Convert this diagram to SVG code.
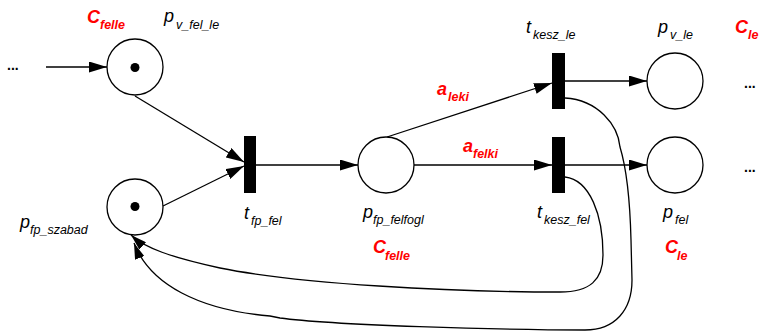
<svg xmlns="http://www.w3.org/2000/svg" width="759" height="331" viewBox="0 0 759 331">
<style>
.pl{fill:#fff;stroke:#000;stroke-width:1.3}
.tok{fill:#000}
.tr{fill:#000}
.ln{fill:none;stroke:#000;stroke-width:1.3}
.m{font-family:"Liberation Sans",Arial,sans-serif;font-style:italic;font-size:18px;fill:#000}
.s{font-size:12.5px}
.r{font-family:"Liberation Sans",Arial,sans-serif;font-style:italic;font-weight:bold;font-size:18px;fill:#ff0000}
.d{font-family:"Liberation Sans",Arial,sans-serif;font-size:14px;font-weight:bold;fill:#000}
</style>
<defs>
<marker id="ah" viewBox="0 0 18 11" refX="18" refY="5.5" markerWidth="18" markerHeight="11" markerUnits="userSpaceOnUse" orient="auto">
<path d="M0,0 L18,5.5 L0,11 z" fill="#000"/>
</marker>
<marker id="ah2" viewBox="0 0 16 10" refX="16" refY="5" markerWidth="16" markerHeight="10" markerUnits="userSpaceOnUse" orient="auto">
<path d="M0,0 L16,5 L0,10 z" fill="#000"/>
</marker>
</defs>
<g id="connectors">
<line class="ln" x1="46" y1="67" x2="107" y2="67" marker-end="url(#ah)"/>
<line class="ln" x1="135" y1="96" x2="244" y2="162" marker-end="url(#ah)"/>
<line class="ln" x1="163" y1="206" x2="244" y2="166" marker-end="url(#ah)"/>
<line class="ln" x1="256" y1="165" x2="358" y2="165" marker-end="url(#ah)"/>
<line class="ln" x1="387" y1="137" x2="552" y2="83" marker-end="url(#ah)"/>
<line class="ln" x1="414" y1="165" x2="552" y2="165" marker-end="url(#ah)"/>
<line class="ln" x1="565" y1="81" x2="647" y2="81" marker-end="url(#ah)"/>
<line class="ln" x1="565" y1="165" x2="647" y2="165" marker-end="url(#ah)"/>
<path class="ln" d="M565,177 C590,180 603,215 603,255 C603,280 590,292 560,292 C450,292 300,284 220,268 C170,257 145,248 131,235" marker-end="url(#ah2)"/>
<path class="ln" d="M565,98 C598,100 618,125 620,147 C627,170 630,200 631,240 L632,280 C632,310 615,330 585,330 C500,330 330,325 280,318 L270,316 C200,310 150,285 134,243" marker-end="url(#ah2)"/>
</g>
<g id="p_v_fel_le">
<circle class="pl" cx="135" cy="67" r="28"/>
<circle class="tok" cx="135" cy="67.5" r="4.5"/>
<text class="m" x="164" y="22">p<tspan class="s" x="176" y="29">v_fel_le</tspan></text>
<text class="r" x="87" y="23">C<tspan class="s" x="100" y="29">felle</tspan></text>
</g>
<g id="p_fp_szabad">
<circle class="pl" cx="135" cy="207" r="28"/>
<circle class="tok" cx="135" cy="206.5" r="4.5"/>
<text class="m" x="20" y="228">p<tspan class="s" x="30" y="234">fp_szabad</tspan></text>
</g>
<g id="t_fp_fel">
<rect class="tr" x="244" y="136" width="12" height="57"/>
<text class="m" x="244" y="219">t<tspan class="s" x="251" y="225">fp_fel</tspan></text>
</g>
<g id="p_fp_felfogl">
<circle class="pl" cx="386" cy="165" r="28"/>
<text class="m" x="363" y="218">p<tspan class="s" x="373" y="224">fp_felfogl</tspan></text>
<text class="r" x="373" y="253">C<tspan class="s" x="385" y="260">felle</tspan></text>
</g>
<g id="t_kesz_le">
<rect class="tr" x="552" y="53" width="13" height="56"/>
<text class="m" x="526" y="33">t<tspan class="s" x="533" y="39">kesz_le</tspan></text>
</g>
<g id="t_kesz_fel">
<rect class="tr" x="552" y="137" width="13" height="56"/>
<text class="m" x="537" y="218">t<tspan class="s" x="544" y="224">kesz_fel</tspan></text>
</g>
<g id="p_v_le">
<circle class="pl" cx="675" cy="81" r="28"/>
<text class="m" x="658" y="33">p<tspan class="s" x="670" y="39">v_le</tspan></text>
<text class="r" x="735" y="33">C<tspan class="s" x="748" y="39">le</tspan></text>
</g>
<g id="p_fel">
<circle class="pl" cx="675" cy="165" r="28"/>
<text class="m" x="663" y="218">p<tspan class="s" x="675" y="224">fel</tspan></text>
<text class="r" x="665" y="253">C<tspan class="s" x="677" y="260">le</tspan></text>
</g>
<g id="labels">
<text class="r" x="437" y="95">a<tspan class="s" x="448" y="101">leki</tspan></text>
<text class="r" x="463" y="152">a<tspan class="s" x="473" y="158">felki</tspan></text>
<text class="d" x="7" y="70">...</text>
<text class="d" x="744" y="88">...</text>
<text class="d" x="744" y="172">...</text>
</g>
</svg>
